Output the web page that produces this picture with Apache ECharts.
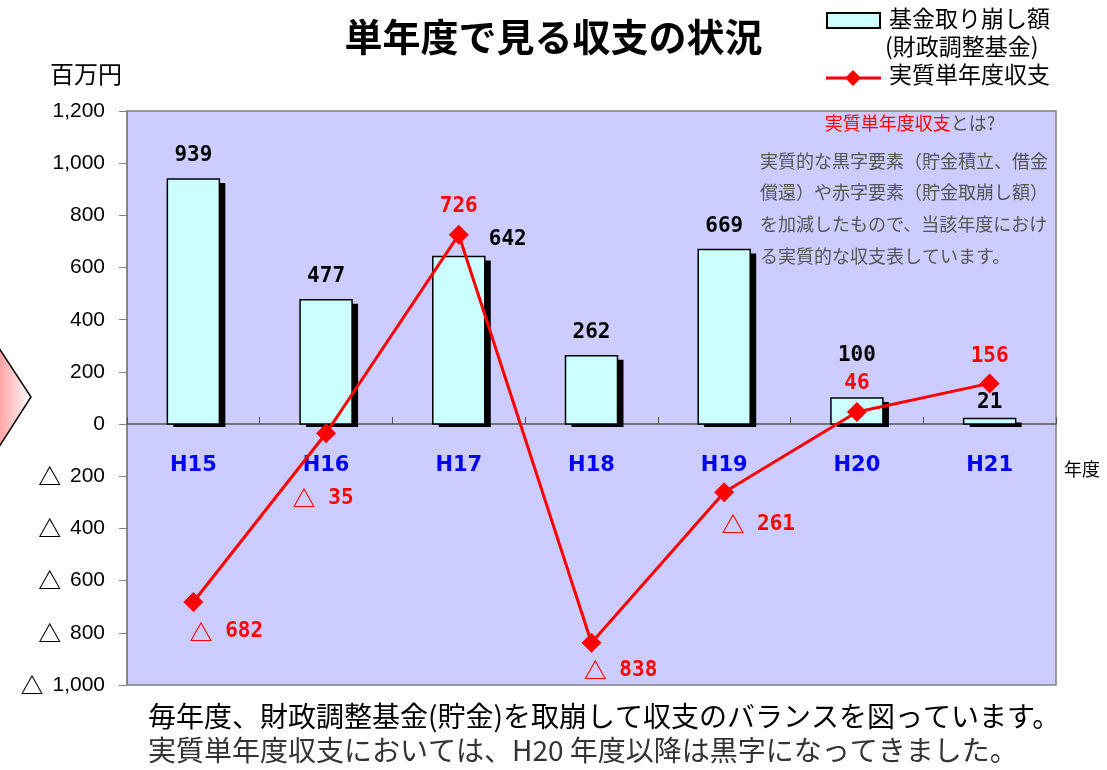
<!DOCTYPE html>
<html><head><meta charset="utf-8">
<script src="https://cdn.jsdelivr.net/npm/echarts@6/dist/echarts.min.js"></script>
<style>html,body{margin:0;padding:0;background:#fff}#c{width:1107px;height:770px}</style>
</head><body><div id="c"></div>
<script>
const categories = ['H15','H16','H17','H18','H19','H20','H21'];
const fundWithdrawal = [939, 477, 642, 262, 669, 100, 21];
const realBalance = [-682, -35, 726, -838, -261, 46, 156];
const yTickValues = [-1000, -800, -600, -400, -200, 0, 200, 400, 600, 800, 1000, 1200];
const barName = '基金取り崩し額';
const barName2 = '(財政調整基金)';
const lineName = '実質単年度収支';
const titleText = '単年度で見る収支の状況';
const unitText = '百万円';
const xUnitText = '年度';
const noteTitleRed = '実質単年度収支';
const noteTitleRest = 'とは?';
const noteLines = ['実質的な黒字要素（貯金積立、借金','償還）や赤字要素（貯金取崩し額）','を加減したもので、当該年度におけ','る実質的な収支表しています。'];
const footLine1 = '毎年度、財政調整基金(貯金)を取崩して収支のバランスを図っています。';
const footLine2 = '実質単年度収支においては、H20 年度以降は黒字になってきました。';

const JP = '"Noto Sans CJK JP", sans-serif';
const MONO = '"DejaVu Sans Mono", monospace';
function fmtRich(v){ v = Number(v); const a = Math.abs(v).toLocaleString('en-US'); return v < 0 ? '{t|△} ' + a : a; }

// label placement tweaks (style only)
const lineLabelOffsets = [[33,30],[-3,65],[0,-28],[29,28],[34,32],[0,-29],[0,-27]];
const barLabelOffsets = [[0,0],[0,0],[49,6],[0,0],[0,0],[0,-19],[0,7]];

const BAR_W = 52;
function renderBar(params, api){
  const idx = params.dataIndex;
  const v = api.value(1);
  const top = api.coord([api.value(0), v]);
  const base = api.coord([api.value(0), 0]);
  const x0 = top[0] - BAR_W / 2;
  const y0 = Math.min(top[1], base[1]);
  const h = Math.abs(base[1] - top[1]);
  return { type: 'group', children: [
    { type: 'rect', shape: { x: x0 + 6, y: y0 + 4, width: BAR_W, height: h - 1 }, style: { fill: '#000' } },
    { type: 'rect', shape: { x: x0, y: y0, width: BAR_W, height: h }, style: { fill: '#ccffff', stroke: '#000', lineWidth: 1.5 },
      textContent: { style: { text: Math.abs(v).toLocaleString('en-US'), font: 'bold 21px ' + MONO, fill: '#000' } },
      textConfig: { position: 'top', distance: 12, offset: barLabelOffsets[idx] } }
  ]};
}

const chart = echarts.init(document.getElementById('c'));
chart.setOption({
  animation: false,
  backgroundColor: '#ffffff',
  grid: { left: 127, right: 51, top: 111, bottom: 85, show: true, backgroundColor: '#ccccff', borderColor: '#808080', borderWidth: 1.5 },
  xAxis: {
    type: 'category', data: categories, position: 'bottom', offset: -261,
    axisLine: { onZero: false, lineStyle: { color: '#555555', width: 1.5 } },
    axisTick: { show: true, inside: true, length: 7, lineStyle: { color: '#555555' } },
    axisLabel: { margin: 31, color: '#0000ff', fontWeight: 'bold', fontSize: 21, fontFamily: '"DejaVu Sans", sans-serif' }
  },
  yAxis: {
    type: 'value', min: -1000, max: 1200, interval: 200,
    axisLine: { show: true, lineStyle: { color: '#808080', width: 1.5 } },
    axisTick: { show: true, length: 8, lineStyle: { color: '#808080' } },
    splitLine: { show: false },
    axisLabel: { margin: 22, color: '#000', fontSize: 21, fontFamily: '"Liberation Sans", Arial, sans-serif',
      formatter: v => yTickValues.indexOf(v) >= 0 ? fmtRich(v) : '',
      rich: { t: { fontSize: 23, fontWeight: 'bold', fontFamily: JP, color: '#000', padding: [0, 3, 0, 0] } } }
  },
  series: [
    {
      name: barName, type: 'custom', renderItem: renderBar,
      data: fundWithdrawal.map((v, i) => [i, v]),
      encode: { x: 0, y: 1 }, z: 2
    },
    {
      name: lineName, type: 'line',
      data: realBalance.map((v, i) => ({ value: v, label: { offset: lineLabelOffsets[i] } })),
      symbol: 'diamond', symbolSize: 20,
      lineStyle: { color: '#ff0000', width: 3 },
      itemStyle: { color: '#ff0000' },
      label: { show: true, position: 'inside', color: '#ff0000', fontWeight: 'bold', fontSize: 21,
        fontFamily: MONO, formatter: p => fmtRich(p.value),
        rich: { t: { fontSize: 23, fontWeight: 'bold', fontFamily: JP, color: '#ff0000' } } },
      z: 5
    }
  ],
  graphic: [
    { type: 'polygon', shape: { points: [[-3,345],[31,397],[-3,450]] },
      style: { fill: new echarts.graphic.LinearGradient(0,0,1,0,[{offset:0,color:'#ff9a9a'},{offset:1,color:'#ffffff'}]), stroke: '#000', lineWidth: 1.5 } },
    { type: 'text', left: 'center', top: 18, style: { text: titleText, font: 'bold 38px ' + JP, fill: '#000' } },
    { type: 'text', x: 50, y: 62, style: { text: unitText, font: '24px ' + JP, fill: '#000' } },
    { type: 'text', x: 1064, y: 460, style: { text: xUnitText, font: '18px ' + JP, fill: '#000' } },
    // legend
    { type: 'rect', shape: { x: 827, y: 13, width: 53, height: 15 }, style: { fill: '#ccffff', stroke: '#000', lineWidth: 2 } },
    { type: 'text', x: 889, y: 7, style: { text: barName, font: '23px ' + JP, fill: '#000' } },
    { type: 'text', x: 885, y: 35, style: { text: barName2, font: '23px ' + JP, fill: '#000' } },
    { type: 'line', shape: { x1: 826, y1: 78, x2: 881, y2: 78 }, style: { stroke: '#ff0000', lineWidth: 3 } },
    { type: 'polygon', shape: { points: [[853,70],[861,78],[853,86],[845,78]] }, style: { fill: '#ff0000' } },
    { type: 'text', x: 889, y: 63, style: { text: lineName, font: '23px ' + JP, fill: '#000' } },
    // note
    { type: 'text', x: 910, y: 114, style: { text: '{r|' + noteTitleRed + '}{g|' + noteTitleRest + '}', align: 'center',
        rich: { r: { font: '18px ' + JP, fill: '#ff0000' }, g: { font: '18px ' + JP, fill: '#555555' } } } },
    { type: 'text', x: 760, y: 145, style: { text: noteLines.join('\n'), font: '18px ' + JP, fill: '#555555', lineHeight: 31.7 } },
    // footer
    { type: 'text', x: 148, y: 702, style: { text: footLine1, font: '28px ' + JP, fill: '#000' } },
    { type: 'text', x: 148, y: 736, style: { text: footLine2, font: '28px ' + JP, fill: '#333333' } }
  ]
});
</script></body></html>
